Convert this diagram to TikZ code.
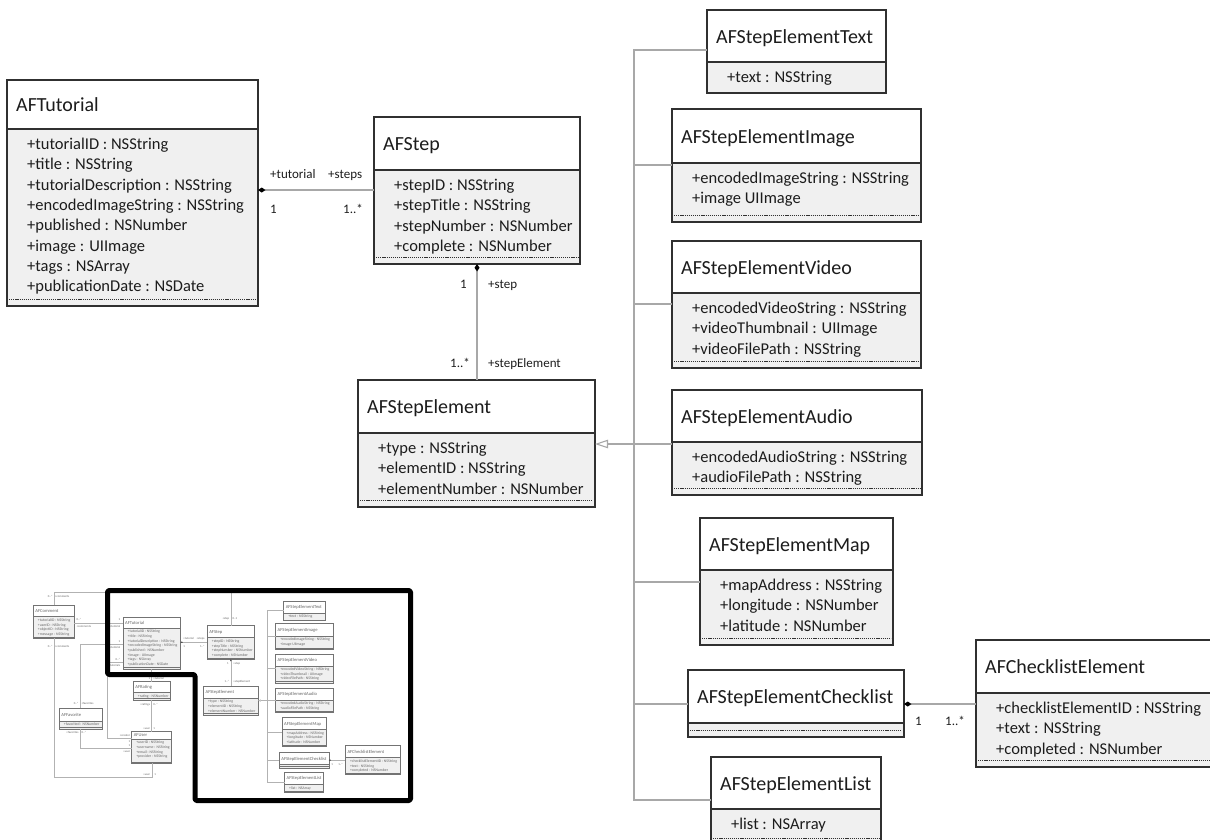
\documentclass[tikz,border=0pt]{standalone}
\usepackage{fontspec}
\setmainfont{Carlito}
\usetikzlibrary{arrows.meta}

\definecolor{boxline}{HTML}{303030}
\definecolor{bodyfill}{HTML}{F0F0F0}
\definecolor{connline}{HTML}{A8A8A8}
\definecolor{ink}{HTML}{1C1C1C}

\tikzset{
  classframe/.style={draw=boxline, line width=1.3pt, inner sep=0pt, outer sep=0pt, anchor=north west},
  classbody/.style={fill=bodyfill},
  classhead/.style={fill=white},
  classrule/.style={draw=boxline, line width=1.3pt},
  attrrule/.style={draw=boxline, line width=0.6pt, dash pattern=on 1.2pt off 0.9pt},
  classtitle/.style={font=\fontsize{20}{24}\selectfont, text=ink, inner sep=0pt, anchor=base west},
  attrtext/.style={font=\fontsize{16.5}{20}\selectfont, text=ink, inner sep=0pt, anchor=base west},
  rolelabel/.style={font=\fontsize{13}{15}\selectfont, text=ink, inner sep=0pt},
  conn/.style={draw=connline, line width=1.1pt},
  composite/.style={{Diamond[length=7.5pt,width=5pt,color=black]}-},
  generalize/.style={-{Triangle[open,length=13pt,width=8.5pt,fill=white]}},
}

% One UML class box:
% #1 name, #2 left, #3 top, #4 right, #5 header rule, #6 bottom,
% #7 class name, #8 attributes, #9 dashed closing rule (1/0)
\newcommand\umlclass[9]{%
  \path[classbody] (#2,#5) rectangle (#4,#6);
  \path[classhead] (#2,#3) rectangle (#4,#5);
  \node[classframe, minimum width={((#4)-(#2))*1pt}, minimum height={((#6)-(#3))*1pt}] (#1) at (#2,#3) {};
  \draw[classrule] (#2,#5) -- (#4,#5);
  \node[classtitle] (#1-t) at ({#2+9},{(#3+#5)/2+7}) {#7};
  \foreach \a [count=\i from 0] in {#8} {%
    \ifx\a\empty\else
      \node[attrtext] (#1-a\i) at ({#2+20},{#5+20.5+20.3*\i}) {\a};
    \fi
  }%
  \ifnum#9=1 \draw[attrrule] ({#2+2},{#6-7}) -- ({#4-2},{#6-7});\fi
}

% The tutorial / step / step element model
\newcommand\afmodel[1]{%
  \umlclass{#1tut}{7}{80}{258}{129}{306}{AFTutorial}{+tutorialID : NSString,+title : NSString,+tutorialDescription : NSString,+encodedImageString : NSString,+published : NSNumber,+image : UIImage,+tags : NSArray,+publicationDate : NSDate}{1}
  \umlclass{#1step}{374}{117}{580}{170}{264}{AFStep}{+stepID : NSString,+stepTitle : NSString,+stepNumber : NSNumber,+complete : NSNumber}{1}
  \umlclass{#1elem}{358}{380}{595}{433}{507}{AFStepElement}{+type : NSString,+elementID : NSString,+elementNumber : NSNumber}{1}
  \umlclass{#1text}{707}{10}{886}{62}{93}{AFStepElementText}{+text : NSString}{0}
  \umlclass{#1img}{672}{109}{921}{163}{222}{AFStepElementImage}{+encodedImageString : NSString,+image UIImage}{1}
  \umlclass{#1vid}{672}{241}{921}{293}{368}{AFStepElementVideo}{+encodedVideoString : NSString,+videoThumbnail : UIImage,+videoFilePath : NSString}{1}
  \umlclass{#1aud}{672}{390}{922}{442}{495}{AFStepElementAudio}{+encodedAudioString : NSString,+audioFilePath : NSString}{1}
  \umlclass{#1map}{700}{518}{893}{570}{645}{AFStepElementMap}{+mapAddress : NSString,+longitude : NSNumber,+latitude : NSNumber}{1}
  \umlclass{#1chk}{688}{670}{904}{723}{737}{AFStepElementChecklist}{}{1}
  \umlclass{#1lst}{711}{757}{881}{809}{845}{AFStepElementList}{+list : NSArray}{1}
  \umlclass{#1cel}{976}{640}{1213}{693}{767}{AFChecklistElement}{+checklistElementID : NSString,+text : NSString,+completed : NSNumber}{1}
  % tutorial -- steps
  \coordinate (#1j1) at (300,190);
  \draw[conn, composite] (#1tut.east |- #1j1) -- (#1step.west |- #1j1);
  \node[rolelabel, anchor=base west] (#1r1) at (270,178) {+tutorial};
  \node[rolelabel, anchor=base west] (#1r2) at (328,178) {+steps};
  \node[rolelabel, anchor=base west] (#1r3) at (270,213) {1};
  \node[rolelabel, anchor=base east] (#1r4) at (363,213) {1..*};
  % step -- step elements
  \coordinate (#1j2) at (477,320);
  \draw[conn, composite] (#1step.south -| #1j2) -- (#1elem.north -| #1j2);
  \node[rolelabel, anchor=base east] (#1r5) at (467,288) {1};
  \node[rolelabel, anchor=base west] (#1r6) at (488,288) {+step};
  \node[rolelabel, anchor=base east] (#1r7) at (470,367) {1..*};
  \node[rolelabel, anchor=base west] (#1r8) at (488,367) {+stepElement};
  % subclasses of AFStepElement
  \coordinate (#1g) at (634,444);
  \draw[conn, generalize] (#1aud.west |- #1g) -- (#1elem.east |- #1g);
  \coordinate (#1btop) at (634,50);
  \coordinate (#1bbot) at (634,800);
  \draw[conn] (#1text.west |- #1btop) -- (#1btop) -- (#1bbot) -- (#1lst.west |- #1bbot);
  \coordinate (#1b2) at (634,165);
  \draw[conn] (#1b2) -- (#1img.west |- #1b2);
  \coordinate (#1b3) at (634,304);
  \draw[conn] (#1b3) -- (#1vid.west |- #1b3);
  \coordinate (#1b4) at (634,582);
  \draw[conn] (#1b4) -- (#1map.west |- #1b4);
  \coordinate (#1b5) at (634,704);
  \draw[conn] (#1b5) -- (#1chk.west |- #1b5);
  % checklist -- checklist elements
  \coordinate (#1j3) at (940,704);
  \draw[conn, composite] (#1chk.east |- #1j3) -- (#1cel.west |- #1j3);
  \node[rolelabel, anchor=base west] (#1r9) at (915,725) {1};
  \node[rolelabel, anchor=base west] (#1r10) at (945,725) {1..*};
}

% Comments, favourites, ratings and users around the model
\newcommand\afsocial[1]{%
  \umlclass{#1com}{-383.8}{27.7}{-205.2}{78.7}{172.8}{AFComment}{+tutorialID : NSString,+userID : NSString,+objectID : NSString,+message : NSString}{1}
  \umlclass{#1fav}{-270.6}{477.8}{-81.5}{533.2}{567}{AFFavorite}{+favorited : NSNumber}{1}
  \umlclass{#1rat}{51.9}{361.9}{211.8}{408.1}{442}{AFRating}{+rating : NSNumber}{1}
  \umlclass{#1usr}{44.9}{579.8}{219.2}{611.6}{717.5}{AFUser}{+userID : NSString,+username : NSString,+email : NSString,+provider : NSString}{1}
  % step -- comments
  \coordinate (#1k1) at (477,-29);
  \coordinate (#1k2) at (-294.5,-29);
  \draw[conn] (#1step.north -| #1k1) -- (#1k1) -- (#1k2) -- (#1com.north -| #1k2);
  \node[rolelabel, anchor=base east] (#1s1) at (470,89) {+step};
  \node[rolelabel, anchor=base west] (#1s2) at (484,89) {0..1};
  \node[rolelabel, anchor=base east] (#1s3) at (-300,-3) {0..*};
  \node[rolelabel, anchor=base west] (#1s4) at (-289,-3) {+comments};
  % comment -- tutorial
  \coordinate (#1k3) at (-100,105);
  \draw[conn] (#1com.east |- #1k3) -- (#1tut.west |- #1k3);
  \node[rolelabel, anchor=base west] (#1s5) at (-195,97) {0..*};
  \node[rolelabel, anchor=base west] (#1s6) at (-195,124) {+comments};
  \node[rolelabel, anchor=base east] (#1s7) at (-5,97) {1};
  \node[rolelabel, anchor=base east] (#1s8) at (-5,124) {+tutorial};
  % favourite -- tutorial
  \coordinate (#1k4) at (-180.4,197.6);
  \draw[conn] (#1fav.north -| #1k4) -- (#1k4) -- (#1tut.west |- #1k4);
  \node[rolelabel, anchor=base east] (#1s9) at (-5,190) {1};
  \node[rolelabel, anchor=base east] (#1s10) at (-5,218) {+tutorial};
  \node[rolelabel, anchor=base east] (#1s11) at (-187,462) {0..*};
  \node[rolelabel, anchor=base west] (#1s12) at (-174,462) {+favorites};
  % favourite -- user
  \coordinate (#1k5) at (-180.4,650.8);
  \draw[conn] (#1fav.south -| #1k5) -- (#1k5) -- (#1usr.west |- #1k5);
  \node[rolelabel, anchor=base east] (#1s13) at (-187,588) {+favorites};
  \node[rolelabel, anchor=base west] (#1s14) at (-174,588) {0..*};
  \node[rolelabel, anchor=base east] (#1s15) at (38,672) {+user};
  \node[rolelabel, anchor=base east] (#1s16) at (38,644) {1};
  % tutorial -- creator
  \coordinate (#1k6) at (-64,276);
  \coordinate (#1k7) at (-64,607.2);
  \draw[conn] (#1tut.west |- #1k6) -- (#1k6) -- (#1k7) -- (#1usr.west |- #1k7);
  \node[rolelabel, anchor=base east] (#1s17) at (-5,268) {0..*};
  \node[rolelabel, anchor=base east] (#1s18) at (-5,296) {+tutorials};
  \node[rolelabel, anchor=base east] (#1s19) at (38,600) {+creator};
  \node[rolelabel, anchor=base east] (#1s20) at (38,625) {1};
  % tutorial -- rating
  \coordinate (#1k8) at (132,330);
  \draw[conn] (#1tut.south -| #1k8) -- (#1rat.north -| #1k8);
  \node[rolelabel, anchor=base east] (#1s21) at (125,353) {1};
  \node[rolelabel, anchor=base west] (#1s22) at (139,353) {+tutorial};
  % rating -- user
  \coordinate (#1k9) at (132,500);
  \draw[conn] (#1rat.south -| #1k9) -- (#1usr.north -| #1k9);
  \node[rolelabel, anchor=base east] (#1s23) at (125,465) {+ratings};
  \node[rolelabel, anchor=base west] (#1s24) at (139,465) {0..*};
  \node[rolelabel, anchor=base east] (#1s25) at (125,572) {+user};
  \node[rolelabel, anchor=base west] (#1s26) at (139,572) {1};
  % comment -- user
  \coordinate (#1k10) at (-294.5,777.2);
  \coordinate (#1k11) at (136.4,777.2);
  \draw[conn] (#1com.south -| #1k10) -- (#1k10) -- (#1k11) -- (#1usr.south -| #1k11);
  \node[rolelabel, anchor=base east] (#1s27) at (-300,215) {0..*};
  \node[rolelabel, anchor=base west] (#1s28) at (-289,215) {+comments};
  \node[rolelabel, anchor=base east] (#1s29) at (125,770) {+user};
  \node[rolelabel, anchor=base west] (#1s30) at (143,770) {1};
}

\begin{document}
\begin{tikzpicture}[x=1pt, y=-1pt]
  \useasboundingbox (0,0) rectangle (1210,839);
  \clip (0,0) rectangle (1210,839);

  % full-size model
  \afmodel{m-}

  % overview of the whole schema, with the model part framed
  \begin{scope}[shift={(121.39,598.64)}, scale=0.2295, transform shape,
      classframe/.append style={line width=0.45pt},
      classrule/.append style={line width=0.45pt},
      attrrule/.append style={line width=0.25pt, dash pattern=on 0.5pt off 0.4pt},
      conn/.append style={line width=0.4pt},
      composite/.style={{Diamond[length=2.2pt,width=1.5pt,color=black!70]}-},
      generalize/.style={-{Triangle[open,length=3pt,width=2pt,fill=white]}}]
    \colorlet{ink}{black!60}
    \colorlet{boxline}{black!55}
    \colorlet{connline}{black!30}
    \afmodel{t-}
    \afsocial{t-}
  \end{scope}
  \draw[line width=5pt, line join=round, rounded corners=1.5pt]
    (107.5,590.5) -- (410.5,590.5) -- (410.5,800.5) -- (195,800.5)
    -- (195,674.5) -- (107.5,674.5) -- cycle;
\end{tikzpicture}
\end{document}
